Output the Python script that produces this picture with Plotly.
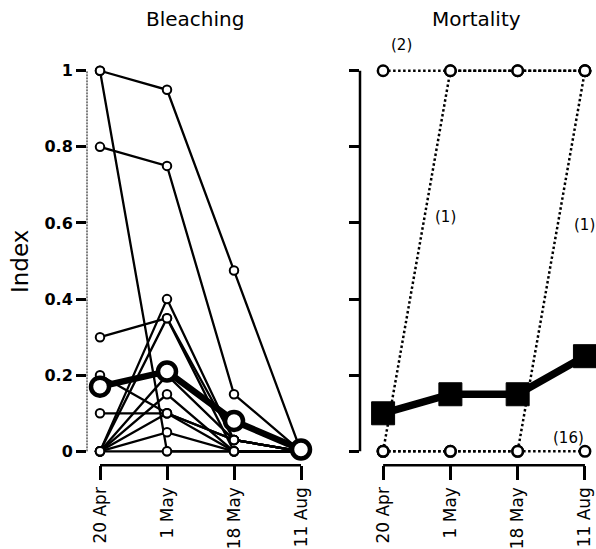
import plotly.graph_objects as go

# ---------------- data ----------------
dates = ["20 Apr", "1 May", "18 May", "11 Aug"]
y_ticks = [0, 0.2, 0.4, 0.6, 0.8, 1]
y_ticklabels = ["0", "0.2", "0.4", "0.6", "0.8", "1"]

bleach_colonies = [
    [1.0, 0.95, 0.475, 0.0],
    [1.0, 0.0, 0.0, 0.0],
    [0.8, 0.75, 0.15, 0.0],
    [0.3, 0.35, 0.03, 0.0],
    [0.2, 0.1, 0.03, 0.0],
    [0.1, 0.1, 0.0, 0.0],
    [0.0, 0.4, 0.03, 0.0],
    [0.0, 0.35, 0.0, 0.0],
    [0.0, 0.2, 0.03, 0.0],
    [0.0, 0.15, 0.0, 0.0],
    [0.0, 0.1, 0.03, 0.0],
    [0.0, 0.05, 0.0, 0.0],
    [0.0, 0.0, 0.0, 0.0],
]
bleach_mean = [0.17, 0.21, 0.08, 0.005]

mort_groups = [
    [1, 1, 1, 1],   # (2)
    [0, 0, 0, 0],   # (16)
    [0, 1, 1, 1],   # (1)
    [0, 0, 0, 1],   # (1)
]
mort_mean = [0.10, 0.15, 0.15, 0.25]

# group-size labels: text, x-category index, y value
mort_labels = [("(2)", 0.28, 1.068), ("(1)", 0.925, 0.615), ("(1)", 3.0, 0.594), ("(16)", 2.75, 0.034)]

# ---------------- figure ----------------
W, H = 596, 549
fig = go.Figure()

for s in bleach_colonies:
    fig.add_trace(go.Scatter(
        x=dates, y=s, mode="lines+markers", xaxis="x", yaxis="y",
        line=dict(color="black", width=2.3),
        marker=dict(symbol="circle", size=8.5, color="white", line=dict(color="black", width=2)),
        cliponaxis=False, showlegend=False))

fig.add_trace(go.Scatter(
    x=dates, y=bleach_mean, mode="lines+markers", xaxis="x", yaxis="y",
    line=dict(color="black", width=6.5),
    marker=dict(symbol="circle", size=18, color="white", line=dict(color="black", width=4.5)),
    cliponaxis=False, showlegend=False))

for s in mort_groups:
    fig.add_trace(go.Scatter(
        x=dates, y=s, mode="lines+markers", xaxis="x2", yaxis="y2",
        line=dict(color="black", width=2.5, dash="2.5px,2.5px"),
        marker=dict(symbol="circle", size=10.5, color="white", line=dict(color="black", width=2.5)),
        cliponaxis=False, showlegend=False))

fig.add_trace(go.Scatter(
    x=dates, y=mort_mean, mode="lines+markers", xaxis="x2", yaxis="y2",
    line=dict(color="black", width=7.5),
    marker=dict(symbol="square", size=23, color="black", line=dict(color="black", width=1)),
    cliponaxis=False, showlegend=False))

# axis geometry (pixels -> fractions)
ybot_px, ytop_px = 467, 60
ydom = [(H - ybot_px) / H, (H - ytop_px) / H]
yrange = [-(ybot_px - 453) / 382, 1 + (71 - ytop_px) / 382]

xfont = dict(family="DejaVu Sans", size=17, color="black")
yfont = dict(family="DejaVu Sans", size=16, color="black", weight="bold")

common_x = dict(type="category", categoryorder="array", categoryarray=dates,
                showline=False, showgrid=False, zeroline=False,
                ticks="outside", ticklen=14, tickwidth=2.5, tickcolor="black",
                tickangle=-90, tickfont=xfont)
common_y = dict(range=yrange, domain=ydom, showline=False, showgrid=False, zeroline=False,
                ticks="outside", ticklen=10, tickwidth=2.5, tickcolor="black",
                tickmode="array", tickvals=y_ticks)

fig.update_layout(
    width=W, height=H, margin=dict(l=0, r=0, t=0, b=0),
    paper_bgcolor="white", plot_bgcolor="white",
    xaxis=dict(domain=[87 / W, 314 / W], range=[-13 / 67, 3 + 13 / 67], anchor="y", **common_x),
    yaxis=dict(anchor="x", ticktext=y_ticklabels, tickfont=yfont, showticklabels=True, **common_y),
    xaxis2=dict(domain=[360 / W, 1.0], range=[-23 / 67, 3 + 11 / 67], anchor="y2", **common_x),
    yaxis2=dict(anchor="x2", showticklabels=False, ticktext=y_ticklabels, **common_y),
)

# detached axis lines
fig.add_shape(type="line", xref="x domain", yref="y", x0=0, x1=0, y0=0, y1=1,
              line=dict(color="black", width=1, dash="2px,1px"))
fig.add_shape(type="line", xref="x2 domain", yref="y2", x0=0, x1=0, y0=0, y1=1,
              line=dict(color="black", width=2.5))
fig.add_shape(type="line", xref="x", yref="y domain", x0=0, x1=3, y0=0, y1=0,
              line=dict(color="black", width=2.5))
fig.add_shape(type="line", xref="x2", yref="y2 domain", x0=0, x1=3, y0=0, y1=0,
              line=dict(color="black", width=2.5))

# titles
tfont = dict(family="DejaVu Sans", size=20, color="black")
fig.add_annotation(text="Bleaching", x=195 / W, y=1 - 19 / H, xref="paper", yref="paper",
                   showarrow=False, font=tfont, xanchor="center", yanchor="middle")
fig.add_annotation(text="Mortality", x=476 / W, y=1 - 19 / H, xref="paper", yref="paper",
                   showarrow=False, font=tfont, xanchor="center", yanchor="middle")
fig.add_annotation(text="Index", x=20 / W, y=1 - 263 / H, xref="paper", yref="paper",
                   showarrow=False, textangle=-90, font=dict(family="DejaVu Sans", size=23, color="black"),
                   xanchor="center", yanchor="middle")

# group labels: y converted from data value to paper fraction so labels above range still show
lfont = dict(family="DejaVu Sans", size=15, color="black")
for txt, xi, yv in mort_labels:
    ypaper = ydom[0] + (yv - yrange[0]) / (yrange[1] - yrange[0]) * (ydom[1] - ydom[0])
    fig.add_annotation(text=txt, x=xi, y=ypaper, xref="x2", yref="paper", showarrow=False,
                       font=lfont, xanchor="center", yanchor="middle")

fig.write_html("out.html")
